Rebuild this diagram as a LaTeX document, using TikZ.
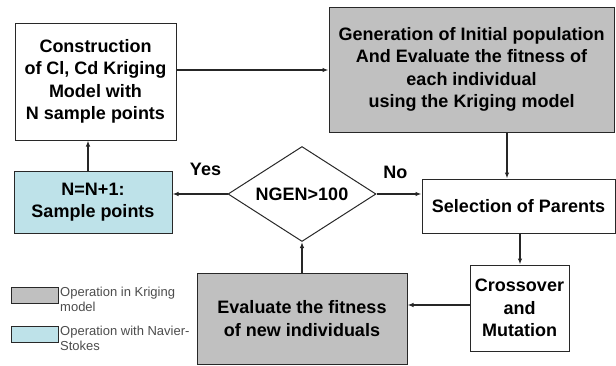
\documentclass[tikz,border=0pt]{standalone}
\usepackage{fontspec}
\setmainfont{Liberation Sans}
\usetikzlibrary{shapes.geometric,arrows.meta}

\definecolor{krggray}{RGB}{192,192,192}
\definecolor{nsblue}{RGB}{190,226,233}
\definecolor{linegray}{RGB}{40,40,40}

\begin{document}
\begin{tikzpicture}[x=1pt,y=-1pt,
    box/.style={rectangle, draw=linegray, line width=1pt, align=center,
      font=\fontsize{18}{22.5}\selectfont\bfseries, inner sep=0pt},
    flow/.style={-{Latex[length=6pt,width=4.5pt]}, line width=1.4pt, draw=black!85},
    lbl/.style={font=\fontsize{18}{20}\selectfont\bfseries},
    legtext/.style={font=\fontsize{13}{15}\selectfont, text=black!70, align=left, anchor=north west, inner sep=0pt}]
    \useasboundingbox (0,0) rectangle (616,365);

    % 箱を置く
    \node[box, minimum width=161pt, minimum height=117pt] (constr) at (95.5, 81.5)
      {Construction\\of Cl, Cd Kriging\\Model with\\N sample points};
    \node[box, fill=krggray, minimum width=285pt, minimum height=125pt] (genpop) at (471.5, 69.5)
      {Generation of Initial population\\And Evaluate the fitness of\\each individual\\using the Kriging model};
    \node[box, minimum width=193pt, minimum height=54pt] (select) at (518.5, 206)
      {Selection of Parents};
    \node[box, fill=nsblue, minimum width=158pt, minimum height=62pt] (update) at (93, 202)
      {N=N+1:\\Sample points};
    \node[diamond, draw=linegray, line width=1pt, aspect=1.56, minimum width=148pt, minimum height=95pt,
      inner sep=0pt, font=\fontsize{18}{20}\selectfont\bfseries] (ngen) at (302, 194) {NGEN>100};
    \node[box, minimum width=99pt, minimum height=86pt] (cross) at (519.5, 308)
      {Crossover\\and\\Mutation};
    \node[box, fill=krggray, minimum width=210pt, minimum height=91pt] (evalnew) at (302, 318.5)
      {Evaluate the fitness\\of new individuals};

    % 矢印を引く
    \draw[flow] (constr.east |- 0,70) -- (genpop.west |- 0,70);
    \draw[flow] ([xshift=35.5pt]genpop.south) -- ([xshift=-11.5pt]select.north);
    \draw[flow] (ngen.east) -- (ngen.east -| select.west) node[lbl, pos=0.42, above=11pt] {No};
    \draw[flow] (ngen.west) -- (ngen.west -| update.east) node[lbl, pos=0.4, above=14pt] {Yes};
    \draw[flow] (update.north -| 88,0) -- (constr.south -| 88,0);
    \draw[flow] (select.south -| 520,0) -- (cross.north -| 520,0);
    \draw[flow] (cross.west |- 0,305) -- (evalnew.east |- 0,305);
    \draw[flow] (evalnew.north) -- (ngen.south);

    % 凡例
    \node[draw=linegray, line width=1pt, fill=krggray, minimum width=47pt, minimum height=16pt, inner sep=0pt] (leggray) at (34.5, 295) {};
    \node[legtext] (leggraytxt) at (60, 287) {Operation in Kriging\\model};
    \node[draw=linegray, line width=1pt, fill=nsblue, minimum width=47pt, minimum height=16pt, inner sep=0pt] (legblue) at (34.5, 334) {};
    \node[legtext] (legbluetxt) at (60, 326) {Operation with Navier-\\Stokes};
\end{tikzpicture}
\end{document}
